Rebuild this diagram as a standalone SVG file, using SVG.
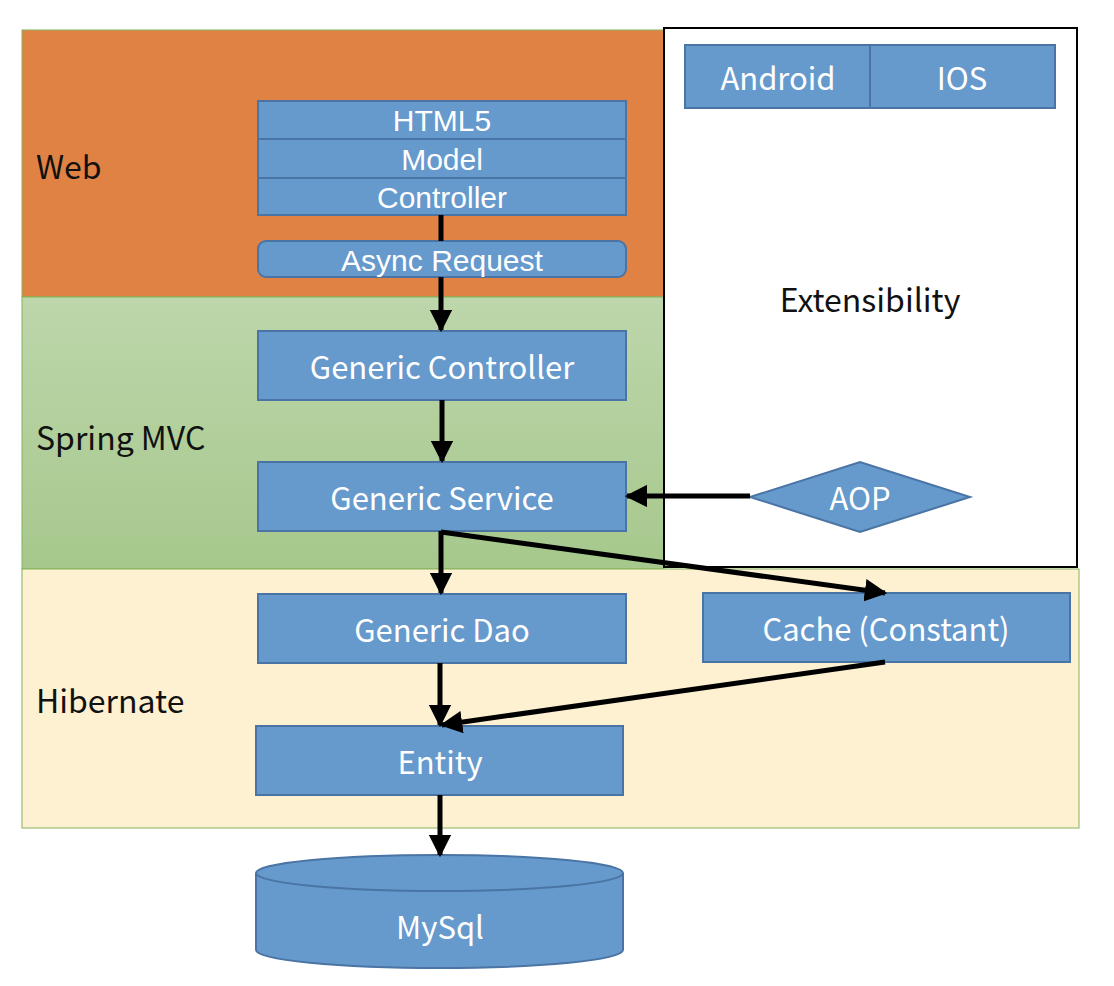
<svg xmlns="http://www.w3.org/2000/svg" width="1114" height="986" viewBox="0 0 1114 986">
<defs>
<linearGradient id="green" x1="0" y1="0" x2="0" y2="1">
<stop offset="0" stop-color="#bdd6ab"/>
<stop offset="1" stop-color="#a6c88c"/>
</linearGradient>
<marker id="ah" viewBox="0 0 10 10" refX="9" refY="5" markerWidth="4.5" markerHeight="4.5" markerUnits="strokeWidth" orient="auto">
<path d="M0,0 L10,5 L0,10 z" fill="#000"/>
</marker>
<style>
.box{fill:#6699cc;stroke:#4a74a4;stroke-width:2}
.t{font-family:"Noto Sans CJK SC","Noto Sans",sans-serif;font-size:31px;fill:#fff;text-anchor:middle;dominant-baseline:central}
.ts{font-family:"Liberation Sans",Arial,sans-serif;font-size:30px;fill:#fff;text-anchor:middle;dominant-baseline:central}
.lbl{font-family:"Noto Sans CJK SC","Noto Sans",sans-serif;font-size:32px;fill:#111}
.c{stroke:#000;stroke-width:5;fill:none}
</style>
</defs>
<rect width="1114" height="986" fill="#fff"/>
<g id="web-layer">
<rect x="22" y="30" width="642" height="267" fill="#e08244" stroke="#86b25a" stroke-width="1"/>
<text class="lbl" x="36" y="165" dominant-baseline="central">Web</text>
</g>
<g id="spring-layer">
<rect x="22" y="297" width="642" height="272" fill="url(#green)" stroke="#86b25a" stroke-width="1"/>
<text class="lbl" x="36" y="436" dominant-baseline="central">Spring MVC</text>
</g>
<g id="hibernate-layer">
<rect x="22" y="569" width="1057" height="259" fill="#fdf1d1" stroke="#86b25a" stroke-width="1"/>
<text class="lbl" x="36" y="699" dominant-baseline="central">Hibernate</text>
</g>
<g id="extensibility">
<rect x="664" y="28" width="413" height="539" fill="#fff" stroke="#000" stroke-width="2"/>
<text class="lbl" x="870" y="298" text-anchor="middle" dominant-baseline="central">Extensibility</text>
</g>
<g id="android"><rect class="box" x="685" y="45" width="185" height="63"/><text class="t" x="778" y="76">Android</text></g>
<g id="ios"><rect class="box" x="870" y="45" width="185" height="63"/><text class="t" x="962" y="76">IOS</text></g>
<g id="html5"><rect class="box" x="258" y="101" width="368" height="38"/><text class="ts" x="442" y="120">HTML5</text></g>
<g id="model"><rect class="box" x="258" y="139" width="368" height="39"/><text class="ts" x="442" y="159">Model</text></g>
<g id="controller"><rect class="box" x="258" y="178" width="368" height="37"/><text class="ts" x="442" y="197">Controller</text></g>
<g id="async-request"><rect class="box" x="258" y="241" width="368" height="36" rx="8"/><text class="ts" x="442" y="260">Async Request</text></g>
<g id="generic-controller"><rect class="box" x="258" y="331" width="368" height="69"/><text class="t" x="442" y="365">Generic Controller</text></g>
<g id="generic-service"><rect class="box" x="258" y="462" width="368" height="69"/><text class="t" x="442" y="496">Generic Service</text></g>
<g id="aop"><polygon class="box" points="750,497 860,462 970,497 860,532"/><text class="t" x="860" y="496">AOP</text></g>
<g id="generic-dao"><rect class="box" x="258" y="594" width="368" height="69"/><text class="t" x="442" y="628">Generic Dao</text></g>
<g id="cache"><rect class="box" x="703" y="593" width="367" height="69"/><text class="t" x="886" y="627">Cache (Constant)</text></g>
<g id="entity"><rect class="box" x="256" y="726" width="367" height="69"/><text class="t" x="440" y="760">Entity</text></g>
<g id="mysql">
<path class="box" d="M256,873 L256,950 A183.5,18 0 0 0 623,950 L623,873"/>
<ellipse class="box" cx="439.5" cy="873" rx="183.5" ry="18"/>
<text class="t" x="440" y="925">MySql</text>
</g>
<g id="connectors">
<line class="c" x1="441" y1="215" x2="441" y2="241"/>
<line class="c" x1="441" y1="277" x2="441" y2="330" marker-end="url(#ah)"/>
<line class="c" x1="442" y1="400" x2="442" y2="461" marker-end="url(#ah)"/>
<line class="c" x1="750" y1="496" x2="627" y2="496" marker-end="url(#ah)"/>
<line class="c" x1="441" y1="531" x2="441" y2="593" marker-end="url(#ah)"/>
<line class="c" x1="441" y1="532" x2="885" y2="593" marker-end="url(#ah)"/>
<line class="c" x1="440" y1="663" x2="440" y2="725" marker-end="url(#ah)"/>
<line class="c" x1="885" y1="662" x2="442" y2="725" marker-end="url(#ah)"/>
<line class="c" x1="440" y1="795" x2="440" y2="855" marker-end="url(#ah)"/>
</g>
</svg>
